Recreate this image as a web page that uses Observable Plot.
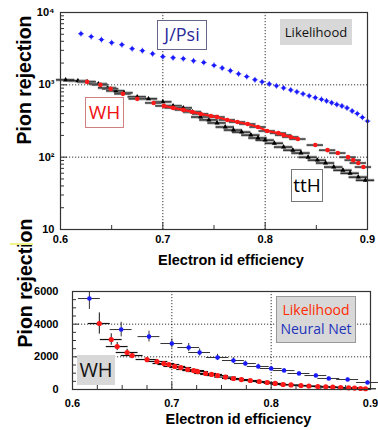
<!DOCTYPE html>
<html><head><meta charset="utf-8">
<script src="https://cdn.jsdelivr.net/npm/d3@7"></script>
<script src="https://cdn.jsdelivr.net/npm/@observablehq/plot@0.6"></script>
<style>
html,body{margin:0;padding:0;background:#fff;}
#wrap{position:relative;width:378px;height:430px;overflow:hidden;font-family:"Liberation Sans",Arial,sans-serif;}
#top,#bot{position:absolute;left:0;}
#top{top:0}
#bot{top:270px}
.box{position:absolute;box-sizing:border-box;display:flex;flex-direction:column;align-items:center;justify-content:center;white-space:nowrap;font-family:"Open Sans","DejaVu Sans",sans-serif;line-height:1.1;}
</style></head><body>
<div id="wrap">
  <div id="top"></div>
  <div id="bot"></div>
  <div class="box" style="left:157px;top:20px;width:50px;height:30px;border:1px solid #666688;color:#2b2b99;font-size:18px;background:#fff;">J/Psi</div>
  <div class="box" style="left:280px;top:19px;width:72px;height:26px;background:#d8d8d8;color:#111;font-size:13px;">Likelihood</div>
  <div class="box" style="left:85px;top:97px;width:39px;height:31px;border:1px solid #d08080;color:#ee1111;font-size:19px;background:#fff;">WH</div>
  <div class="box" style="left:291px;top:169px;width:32px;height:33px;border:1px solid #777;color:#000;font-size:19px;background:#fff;">ttH</div>
  <div class="box" style="left:77px;top:355px;width:38px;height:30px;background:#d8d8d8;color:#111;font-size:20px;">WH</div>
  <div class="box" style="left:276px;top:296px;width:80px;height:47px;background:#d8d8d8;border:1px solid #999;font-size:14px;line-height:1.3;">
    <span style="color:#ff2a00">Likelihood</span><span style="color:#2233bb">Neural Net</span>
  </div>
  <div style="position:absolute;left:10px;top:243px;width:23px;height:2px;background:#f2f28a;"></div>
</div>
<script>
// ---------- Top panel (log scale) ----------
const jpsiEff = [0.62,0.63,0.64,0.65,0.66,0.67,0.68,0.69,0.70,0.71,0.72,0.73,0.74,0.75,0.758,0.766,0.774,0.782,0.79,0.797,0.804,0.811,0.818,0.825,0.831,0.837,0.843,0.849,0.855,0.86,0.865,0.87,0.875,0.88,0.885,0.89,0.895,0.9];
const jpsiRej = [5100,4640,4220,3830,3590,3160,2970,2690,2450,2370,2300,2150,2040,1860,1710,1570,1420,1300,1175,1100,1030,970,905,850,800,750,705,665,630,600,565,535,510,480,435,400,355,315];

const whEff = [0.626,0.639,0.649,0.661,0.675,0.691,0.701,0.710,0.720,0.729,0.737,0.747,0.753,0.763,0.773,0.783,0.793,0.802,0.813,0.818,0.825,0.832,0.849,0.861,0.871,0.881,0.886,0.891,0.896];
const whRej = [1100,1000,880,750,640,562,511,480,450,422,396,371,359,327,306,287,261,230,215,202,190,178,147,125,114,100,91,83,73];
const whBin = 0.008;

const tthEff = [0.605,0.617,0.626,0.637,0.646,0.654,0.662,0.675,0.686,0.700,0.710,0.720,0.729,0.737,0.745,0.753,0.761,0.769,0.777,0.786,0.793,0.800,0.809,0.818,0.827,0.835,0.842,0.851,0.859,0.867,0.876,0.883,0.891,0.898];
const tthRej = [1170,1135,1100,1030,908,825,774,681,640,581,511,479,422,359,327,297,261,237,222,202,184,172,156,138,125,114,100,91,83,73,66,60,53,48];
const tthBin = 0.009;

const xTicks = [0.6,0.7,0.8,0.9];
const xMinorTop = [0.65,0.75,0.85];
const xGrid = [0.7,0.8];
const yTicksLog = [10,100,1000,10000];
const yTickLabelsLog = ["10","10²","10³","10⁴"];
const yMinorLog = [20,30,40,50,60,70,80,90,200,300,400,500,600,700,800,900,2000,3000,4000,5000,6000,7000,8000,9000];
const yGridLog = [100,1000];

// ---------- Bottom panel (linear) ----------
const nnEff = [0.617,0.649,0.677,0.700,0.717,0.728,0.746,0.762,0.774,0.787,0.800,0.813,0.828,0.845,0.858,0.877,0.897];
const nnRej = [5570,3670,3240,2815,2570,2265,1960,1775,1590,1410,1285,1160,980,855,675,610,430];
const nnErr = [670,450,330,280,250,220,190,170,150,140,130,120,110,100,90,90,80];
const nnBin = 0.011;

const lhEff = [0.627,0.639,0.645,0.655,0.660,0.675,0.685,0.692,0.697,0.703,0.709,0.716,0.722,0.726,0.734,0.740,0.746,0.754,0.762,0.770,0.779,0.788,0.796,0.804,0.812,0.820,0.830,0.838,0.847,0.855,0.862,0.870,0.878,0.884,0.890,0.895];
const lhRej = [4040,3060,2630,2265,2080,1835,1715,1590,1530,1410,1345,1225,1160,1100,980,920,855,760,675,610,550,490,430,370,305,280,245,215,185,165,150,120,100,85,60,45];
const lhErr = [650,350,250,200,150,120,100,90,90,80,80,80,70,70,70,60,60,60,50,50,50,50,40,40,40,40,40,30,30,30,30,30,30,30,30,30];
const lhBin = 0.011;

const yTicksLin = [0,2000,4000,6000];
const yMinorLin = [500,1000,1500,2500,3000,3500,4500,5000,5500];
const xMinorBot = [0.625,0.65,0.675,0.725,0.75,0.775,0.825,0.85,0.875];
const yGridLin = [2000,4000];

const jpsi = jpsiEff.map((e,i)=>({e, r:jpsiRej[i]}));
const wh = whEff.map((e,i)=>({e, r:whRej[i]}));
const tth = tthEff.map((e,i)=>({e, r:tthRej[i]}));
const nn = nnEff.map((e,i)=>({e, r:nnRej[i], s:nnErr[i]}));
const lh = lhEff.map((e,i)=>({e, r:lhRej[i], s:lhErr[i]}));
const logLabel = new Map(yTicksLog.map((v,i)=>[v, yTickLabelsLog[i]]));

const RED = "#ff1a1a", BLUE = "#1a1aff";
const font = {fontFamily:"'Liberation Sans', Arial, sans-serif", fontSize:"11px", fontWeight:"bold", background:"transparent", overflow:"visible"};
const dash = {stroke:"#000", strokeOpacity:0.8, strokeDasharray:"1.2,1.8"};

const topPlot = Plot.plot({
  width:378, height:270, marginLeft:60, marginRight:11, marginTop:12, marginBottom:41,
  style:font,
  x:{domain:[0.6,0.9]},
  y:{type:"log", domain:[10,10000]},
  marks:[
    Plot.gridX(xGrid, dash),
    Plot.gridY(yGridLog, dash),
    // ttH error bars (grey spread + black)
    Plot.ruleY(tth, {y:"r", x1:d=>d.e-tthBin, x2:d=>d.e+tthBin, stroke:"#aaa", strokeWidth:3}),
    Plot.ruleY(tth, {y:"r", x1:d=>d.e-tthBin, x2:d=>d.e+tthBin, stroke:"#000", strokeWidth:1}),
    Plot.ruleX(tth, {x:"e", y1:d=>d.r*0.95, y2:d=>d.r*1.05, stroke:"#000", strokeWidth:1}),
    Plot.dot(tth, {x:"e", y:"r", symbol:"triangle", r:1.9, fill:"#000"}),
    // WH likelihood
    Plot.ruleY(wh, {y:"r", x1:d=>d.e-whBin, x2:d=>d.e+whBin, stroke:"#999", strokeWidth:2.5}),
    Plot.ruleY(wh, {y:"r", x1:d=>d.e-whBin, x2:d=>d.e+whBin, stroke:"#222", strokeWidth:1}),
    Plot.ruleX(wh, {x:"e", y1:d=>d.r*0.95, y2:d=>d.r*1.05, stroke:"#222", strokeWidth:1}),
    Plot.line(wh.filter(d=>d.e>=0.7 && d.e<=0.832), {x:"e", y:"r", stroke:RED, strokeWidth:2.2}),
    Plot.dot(wh, {x:"e", y:"r", r:2.3, fill:RED}),
    // J/Psi
    Plot.dot(jpsi, {x:"e", y:"r", symbol:"plus", r:2, stroke:BLUE, strokeWidth:0.8}),
    Plot.dot(jpsi, {x:"e", y:"r", r:1.9, fill:BLUE}),
    Plot.frame({stroke:"#333", strokeWidth:1.2}),
    Plot.axisY(yTicksLog, {tickSize:0, tickPadding:6, tickFormat:d=>logLabel.get(d), label:null}),
    Plot.axisY(yTicksLog, {text:null, tickSize:-7, label:null, stroke:"#333"}),
    Plot.axisY(yMinorLog, {text:null, tickSize:-4, label:null, stroke:"#333"}),
    Plot.axisX(xTicks, {tickSize:0, tickPadding:6, tickFormat:d=>d.toFixed(1), label:null}),
    Plot.axisX(xTicks, {text:null, tickSize:-7, label:null, stroke:"#333"}),
    Plot.axisX(xMinorTop, {text:null, tickSize:-4, label:null, stroke:"#333"}),
    Plot.text(["Pion rejection"], {text:d=>d, frameAnchor:"top-left", rotate:-90, textAnchor:"end", dx:-43, dy:3, fontSize:19.5, fontWeight:"bold"}),
    Plot.text(["Electron id efficiency"], {text:d=>d, frameAnchor:"bottom", dx:17, dy:35, fontSize:14.5, fontWeight:"bold"})
  ]
});
document.getElementById("top").appendChild(topPlot);

const botPlot = Plot.plot({
  width:378, height:160, marginLeft:72, marginRight:8, marginTop:21, marginBottom:41,
  style:font,
  x:{domain:[0.6,0.9]},
  y:{domain:[0,6000]},
  marks:[
    Plot.gridX(xGrid, dash),
    Plot.gridY(yGridLin, dash),
    // Neural Net
    Plot.ruleY(nn, {y:"r", x1:d=>d.e-nnBin, x2:d=>d.e+nnBin, stroke:"#333", strokeWidth:1}),
    Plot.ruleX(nn, {x:"e", y1:d=>d.r-d.s, y2:d=>d.r+d.s, stroke:"#333", strokeWidth:1, clip:true}),
    Plot.dot(nn, {x:"e", y:"r", r:2.3, fill:BLUE}),
    // Likelihood
    Plot.ruleY(lh, {y:"r", x1:d=>d.e-lhBin, x2:d=>d.e+lhBin, stroke:"#111", strokeWidth:1.2}),
    Plot.ruleX(lh, {x:"e", y1:d=>d.r-d.s, y2:d=>d.r+d.s, stroke:"#111", strokeWidth:1, clip:true}),
    Plot.dot(lh, {x:"e", y:"r", r:2.6, fill:RED}),
    Plot.frame({stroke:"#333", strokeWidth:1.2}),
    Plot.axisY(yTicksLin, {tickSize:0, tickPadding:14, label:null, tickFormat:d=>String(d)}),
    Plot.axisY(yTicksLin, {text:null, tickSize:-7, label:null, stroke:"#333"}),
    Plot.axisY(yMinorLin, {text:null, tickSize:-4, label:null, stroke:"#333"}),
    Plot.axisX(xTicks, {tickSize:0, tickPadding:10, tickFormat:d=>d.toFixed(1), label:null}),
    Plot.axisX(xTicks, {text:null, tickSize:-7, label:null, stroke:"#333"}),
    Plot.axisX(xMinorBot, {text:null, tickSize:-4, label:null, stroke:"#333"}),
    Plot.text(["Pion rejection"], {text:d=>d, frameAnchor:"left", rotate:-90, dx:-47, dy:7, fontSize:19.5, fontWeight:"bold"}),
    Plot.text(["Electron id efficiency"], {text:d=>d, frameAnchor:"bottom", dx:17, dy:34, fontSize:14.5, fontWeight:"bold"})
  ]
});
document.getElementById("bot").appendChild(botPlot);
</script>
</body></html>
